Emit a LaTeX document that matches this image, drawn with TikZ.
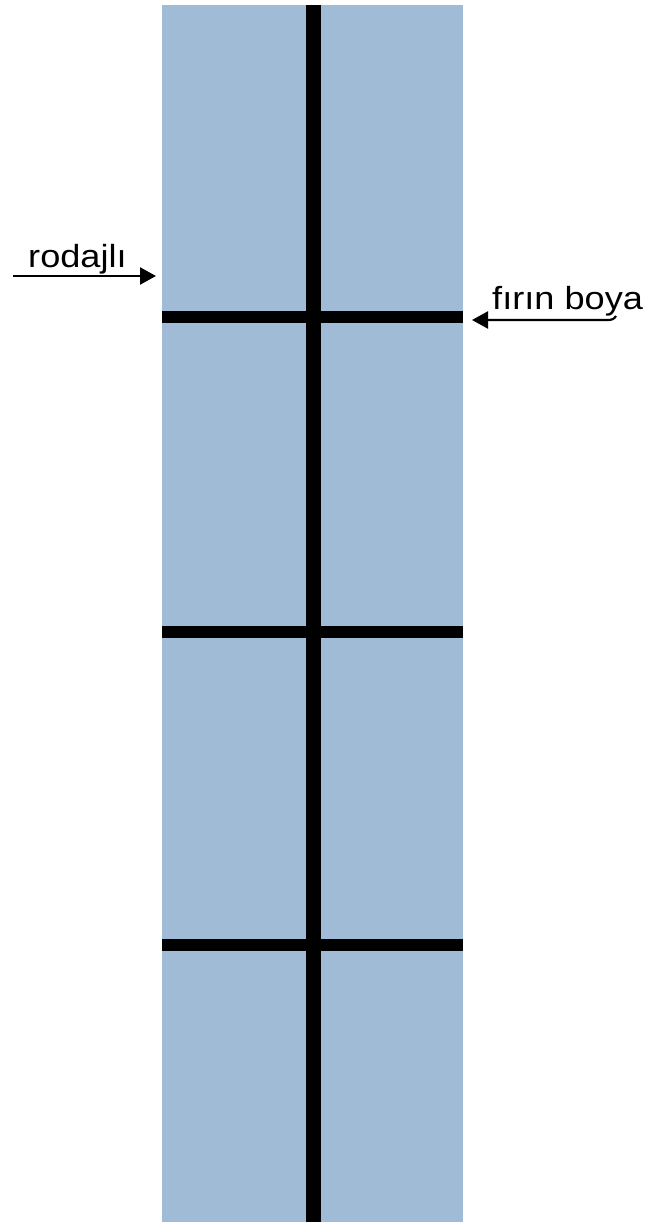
\documentclass[tikz,border=0pt]{standalone}
\usepackage{fontspec}
\setmainfont{Liberation Sans}
\usetikzlibrary{arrows.meta}
\definecolor{panelblue}{RGB}{160,187,214}
\begin{document}
\begin{tikzpicture}[x=1pt,y=-1pt,
  bar/.style={line width=12pt,black},
  spine/.style={line width=15pt,black},
  lbl/.style={inner sep=0pt,font=\fontsize{32}{38}\selectfont,xscale=1.13,anchor=base west},
  pointer/.style={line width=2.2pt,-{Triangle[length=16pt,width=17pt]}}]
\useasboundingbox (0,0) rectangle (652,1222);
\fill[panelblue] (162,5) rectangle (463,1222);
\coordinate (top) at (313,5);
\coordinate (bot) at (313,1222);
\draw[spine] (top) -- (bot);
\foreach \y/\n in {317/a,632/b,945/c}{
  \coordinate (L\n) at (162,\y);
  \coordinate (R\n) at (463,\y);
  \draw[bar] (L\n) -- (R\n);
}
\node[lbl] (rod) at (28,268) {rodajlı};
\coordinate (rs) at (13,276);
\coordinate (re) at (156,276);
\draw[pointer] (rs) -- (re);
\node[lbl] (fb) at (492,309) {fırın boya};
\coordinate (fs) at (616,316);
\coordinate (fe) at (472,320);
\draw[pointer] (fs) to[out=-120,in=0] ++(-8,4) -- (fe);
\end{tikzpicture}
\end{document}
